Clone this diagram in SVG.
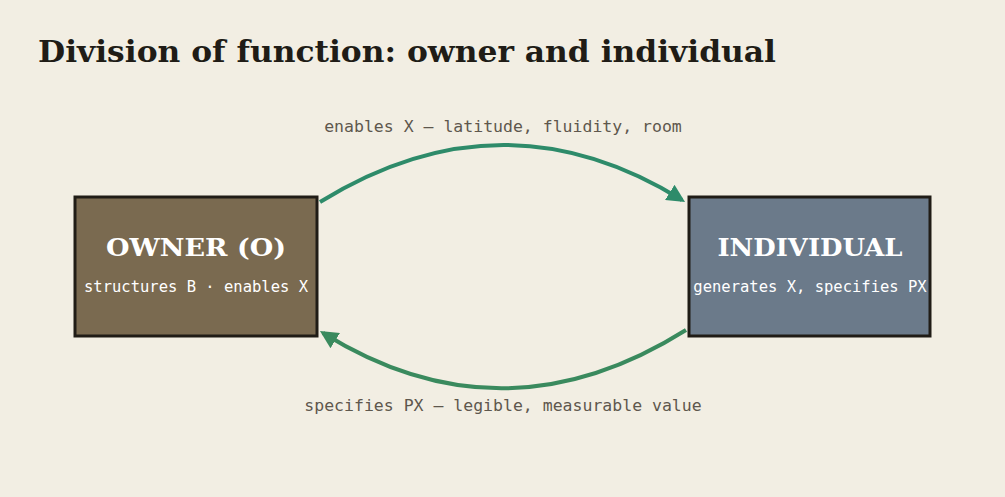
<svg xmlns="http://www.w3.org/2000/svg" width="1005" height="497" viewBox="0 0 1005 497">
<style>
.box{stroke:#201c16;stroke-width:3}
.t{font-family:"DejaVu Serif",serif;font-weight:bold;fill:#fff;font-size:25px;text-anchor:middle}
.s{font-family:"DejaVu Sans Mono",monospace;fill:#fff;font-size:15.5px;text-anchor:middle}
.l{font-family:"DejaVu Sans Mono",monospace;fill:#5e574d;font-size:16.5px;text-anchor:middle}
.c{fill:none;stroke-width:4}
</style>
<defs>
<marker id="a1" viewBox="0 0 10 10" refX="8" refY="5" markerWidth="4.5" markerHeight="4.5" orient="auto"><path d="M0,0L10,5L0,10z" fill="#2e8b6a"/></marker>
<marker id="a2" viewBox="0 0 10 10" refX="8" refY="5" markerWidth="4.5" markerHeight="4.5" orient="auto"><path d="M0,0L10,5L0,10z" fill="#3a8a5e"/></marker>
</defs>
<rect width="1005" height="497" fill="#f2eee3"/>
<text x="38" y="62" font-family="DejaVu Serif,serif" font-weight="bold" font-size="30" fill="#201c16" textLength="738" lengthAdjust="spacingAndGlyphs">Division of function: owner and individual</text>
<g id="connectors">
<path class="c" stroke="#2e8b6a" d="M320,202 Q503,89 682,200" marker-end="url(#a1)"/>
<path class="c" stroke="#3a8a5e" d="M686,330 Q503,445 323,333" marker-end="url(#a2)"/>
<text class="l" x="503" y="132">enables X — latitude, fluidity, room</text>
<text class="l" x="503" y="411">specifies PX — legible, measurable value</text>
</g>
<g id="owner">
<rect class="box" x="75" y="197" width="242" height="139" fill="#7a6a50"/>
<text class="t" x="196" y="256" textLength="180" lengthAdjust="spacingAndGlyphs">OWNER (O)</text>
<text class="s" x="196" y="292">structures B · enables X</text>
</g>
<g id="individual">
<rect class="box" x="689" y="197" width="241" height="139" fill="#6b7a8a"/>
<text class="t" x="810" y="256" textLength="185" lengthAdjust="spacingAndGlyphs">INDIVIDUAL</text>
<text class="s" x="810" y="292">generates X, specifies PX</text>
</g>
</svg>
